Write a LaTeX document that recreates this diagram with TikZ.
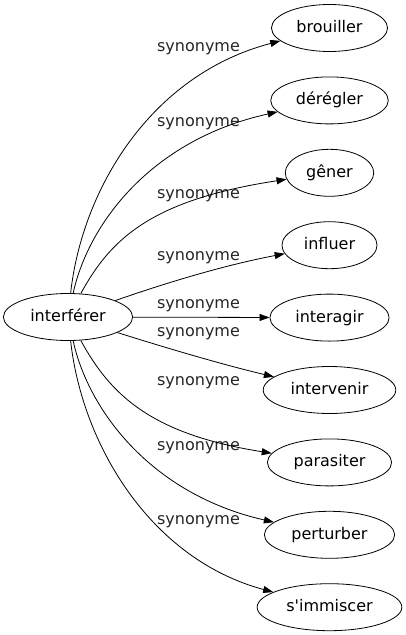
\documentclass[tikz,border=0pt]{standalone}
\usepackage{fontspec}
\setmainfont{DejaVu Sans}[Ligatures=TeXOff]
\usetikzlibrary{arrows.meta,shapes.geometric}
\begin{document}
\begin{tikzpicture}[x=1pt,y=-1pt,
  every node/.style={font=\fontsize{16pt}{19pt}\selectfont},
  nd/.style={draw,ellipse,line width=0.8pt,inner xsep=8pt,inner ysep=2pt,minimum height=47pt,text height=12pt,text depth=3pt},
  lbl/.style={inner sep=0pt,text=black!85},
  edge/.style={line width=0.8pt,-{Triangle[length=10pt,width=7pt]}}]
\useasboundingbox (0,0) rectangle (406,635);
\node[nd] (L) at (68,317) {interférer};
\node[nd] (n1) at (329.5,28) {brouiller};
\node[nd] (n2) at (329.5,100.4) {dérégler};
\node[nd] (n3) at (329.5,172.8) {gêner};
\node[nd] (n4) at (329.5,245.2) {influer};
\node[nd] (n5) at (329.5,317.6) {interagir};
\node[nd] (n6) at (329.5,390) {intervenir};
\node[nd] (n7) at (329.5,462.4) {parasiter};
\node[nd] (n8) at (329.5,534.8) {perturber};
\node[nd] (n9) at (329.5,607.2) {s'immiscer};
\node[lbl] (l1) at (198.5,49) {synonyme};
\node[lbl] (l2) at (198.5,124) {synonyme};
\node[lbl] (l3) at (198.5,196) {synonyme};
\node[lbl] (l4) at (198.5,258) {synonyme};
\node[lbl] (l5) at (198.5,306) {synonyme};
\node[lbl] (l6) at (198.5,334) {synonyme};
\node[lbl] (l7) at (198.5,383) {synonyme};
\node[lbl] (l8) at (198.5,448) {synonyme};
\node[lbl] (l9) at (198.5,522) {synonyme};
\draw[edge] (L) .. controls (82,190) and (150,75) .. (n1);
\draw[edge] (L) .. controls (88,225) and (150,140) .. (n2);
\draw[edge] (L) .. controls (110,240) and (150,200) .. (n3);
\draw[edge] (L) .. controls (160,285) and (220,266) .. (n4);
\draw[edge] (L) -- (n5);
\draw[edge] (L) .. controls (160,346) and (220,364) .. (n6);
\draw[edge] (L) .. controls (110,394) and (150,434) .. (n7);
\draw[edge] (L) .. controls (88,409) and (150,494) .. (n8);
\draw[edge] (L) .. controls (82,444) and (150,559) .. (n9);
\end{tikzpicture}
\end{document}
